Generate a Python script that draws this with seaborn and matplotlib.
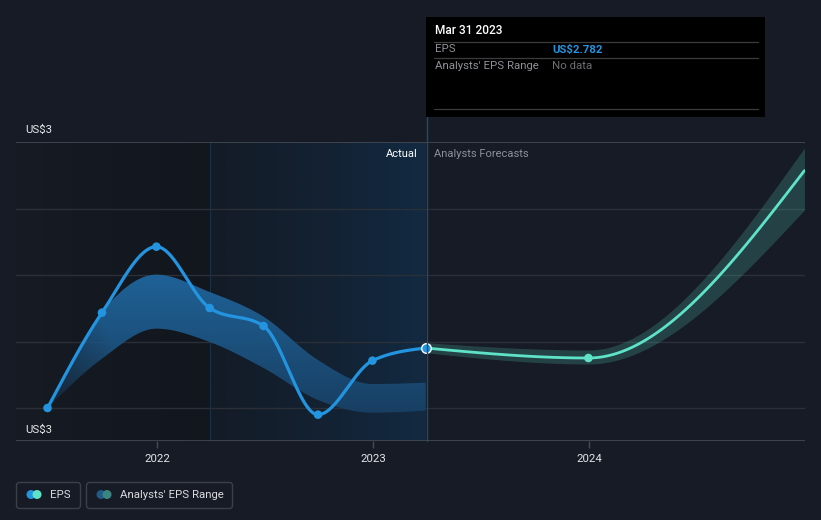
import numpy as np
import pandas as pd
import matplotlib
matplotlib.use("Agg")
import matplotlib.pyplot as plt
import seaborn as sns
from matplotlib.patches import Rectangle, FancyBboxPatch
from matplotlib.colors import LinearSegmentedColormap, to_rgb

# ---------------- data ----------------
eps_dates = ['2021-06-30', '2021-09-30', '2021-12-31', '2022-03-31',
             '2022-06-30', '2022-09-30', '2022-12-31', '2023-03-31']
eps_values = [2.692, 2.835, 2.934, 2.842, 2.815, 2.682, 2.763, 2.782]
range_low = [2.692, 2.766, 2.811, 2.791, 2.752, 2.704, 2.685, 2.688]
range_high = [2.692, 2.836, 2.892, 2.866, 2.829, 2.764, 2.728, 2.730]

fc_dates = ['2023-03-31', '2023-12-31', '2024-12-31']
fc_values = [2.782, 2.767, 3.048]
fc_low = [2.775, 2.758, 2.989]
fc_high = [2.790, 2.779, 3.082]

year_ticks = [2022, 2023, 2024]
y_label_top = "US$3"
y_label_bottom = "US$3"
tooltip_date = "Mar 31 2023"
tooltip_eps = "US$2.782"

# ---------------- helpers ----------------
def dec_year(s):
    d = pd.to_datetime(pd.Series(s))
    days = np.where(d.dt.is_leap_year, 366, 365)
    return (d.dt.year + (d.dt.dayofyear - 1) / days).to_numpy(dtype=float)


def monotone(x, y, n=60):
    x = np.asarray(x, float); y = np.asarray(y, float)
    h = np.diff(x); s = np.diff(y) / h
    m = np.zeros_like(y)
    for i in range(1, len(x) - 1):
        s0, s1 = s[i - 1], s[i]
        if s0 * s1 <= 0:
            m[i] = 0.0
        else:
            p = (s0 * h[i] + s1 * h[i - 1]) / (h[i - 1] + h[i])
            m[i] = (np.sign(s0) + np.sign(s1)) * min(abs(s0), abs(s1), 0.5 * abs(p))
    m[0] = (3 * s[0] - m[1]) / 2
    m[-1] = (3 * s[-1] - m[-2]) / 2
    xs, ys = [], []
    for i in range(len(x) - 1):
        t = np.linspace(0, 1, n, endpoint=(i == len(x) - 2))
        h00 = 2 * t**3 - 3 * t**2 + 1
        h10 = t**3 - 2 * t**2 + t
        h01 = -2 * t**3 + 3 * t**2
        h11 = t**3 - t**2
        xs.append(x[i] + t * h[i])
        ys.append(h00 * y[i] + h10 * h[i] * m[i] + h01 * y[i + 1] + h11 * h[i] * m[i + 1])
    return np.concatenate(xs), np.concatenate(ys)


# ---------------- style ----------------
BG = '#161b25'
BLUE = '#2394df'
TEAL = '#5fe3c8'
GRID = '#2a2f38'
EDGE = '#454a53'

sns.set_theme(style="dark")
plt.rcParams['font.family'] = ['Roboto', 'DejaVu Sans']

W, H = 821, 520
fig = plt.figure(figsize=(W / 100, H / 100), dpi=100, facecolor=BG)

L, R, T, B = 16, 805, 142, 441
ax = fig.add_axes([L / W, 1 - B / H, (R - L) / W, (B - T) / H])
ax.set_facecolor(BG)

px_per_year = 216.0
x0 = 2022 - (157 - L) / px_per_year
x1 = 2022 + (R - 157) / px_per_year
val_at_348 = 2.782
per_px = 0.0015
y_bottom = val_at_348 - (B - 348) * per_px
y_top = val_at_348 + (348 - T) * per_px
ax.set_xlim(x0, x1)
ax.set_ylim(y_bottom, y_top)

ex = dec_year(eps_dates)
fx = dec_year(fc_dates)

# backgrounds: past darker region and "actual" highlight
split = ex[3]
now = ex[-1]
grad_dark = LinearSegmentedColormap.from_list('d', ['#161b24', '#12161d'])
ax.imshow(np.linspace(0, 1, 256).reshape(1, -1), cmap=grad_dark, aspect='auto',
          extent=[x0, split, y_bottom, y_top], zorder=0)
grad_act = LinearSegmentedColormap.from_list('a', [(0, '#131b26'), (0.55, '#132233'),
                                                  (1, '#122a42')])
ax.imshow(np.linspace(0, 1, 256).reshape(1, -1), cmap=grad_act, aspect='auto',
          extent=[split, now, y_bottom, y_top], zorder=0)
ax.axvline(split, color='#16304a', lw=0.8, zorder=1)

# gridlines
for frac in [(B - 209) / (B - T), (B - 275) / (B - T), (B - 342) / (B - T), (B - 408) / (B - T)]:
    ax.axhline(y_bottom + frac * (y_top - y_bottom), color=GRID, lw=1, zorder=1)
ax.axhline(y_top, color=EDGE, lw=1.2, zorder=1)
ax.axhline(y_bottom, color=EDGE, lw=1.2, zorder=1)

# historical analyst range band with gradient (vertical colour, fade-in on the left)
bx, bl = monotone(ex, range_low)
_, bh = monotone(ex, range_high)
poly = ax.fill_between(bx, bl, bh, color='none', lw=0, zorder=2)
ny, nx = 200, 300
vy = np.linspace(0, 1, ny)[:, None]
c_lo = np.array(to_rgb('#194064'))
c_hi = np.array(to_rgb('#2068a0'))
rgb = c_lo[None, None, :] * (1 - vy[..., None]) + c_hi[None, None, :] * vy[..., None]
rgb = np.broadcast_to(rgb, (ny, nx, 3))
xs_img = np.linspace(ex[0], now, nx)
fade = np.clip((xs_img - ex[0]) / (ex[2] - ex[0]), 0, 1)
alpha = np.clip(0.25 + 0.75 * fade[None, :] + 0.6 * vy, 0, 1) * 0.95
rgba = np.dstack([rgb, np.broadcast_to(alpha, (ny, nx))])
img = ax.imshow(rgba, aspect='auto', origin='lower',
                extent=[ex[0], now, 2.68, 2.90], zorder=2)
img.set_clip_path(poly.get_paths()[0], transform=ax.transData)

# forecast band
fbx, fbl = monotone(fx, fc_low)
_, fbh = monotone(fx, fc_high)
ax.fill_between(fbx, fbl, fbh, color=TEAL, alpha=0.2, lw=0, zorder=2)

# lines via seaborn
lx, ly = monotone(ex, eps_values)
sns.lineplot(x=lx, y=ly, ax=ax, color=BLUE, lw=2.3, sort=False, zorder=4)
flx, fly = monotone(fx, fc_values)
sns.lineplot(x=flx, y=fly, ax=ax, color=TEAL, lw=2.0, sort=False, zorder=4)

# markers
sns.scatterplot(x=ex[:-1], y=eps_values[:-1], ax=ax, color=BLUE, s=38, edgecolor='none', zorder=5)
sns.scatterplot(x=fx[1:2], y=fc_values[1:2], ax=ax, color=TEAL, s=38, edgecolor='none', zorder=5)
ax.scatter([ex[-1]], [eps_values[-1]], s=48, color=BLUE, edgecolor='white', linewidth=1.0, zorder=6)

# ticks
ax.set_xticks(year_ticks)
ax.set_xticklabels([str(y) for y in year_ticks], color='#e2e4e8', fontsize=8.2)
ax.set_yticks([])
ax.tick_params(axis='x', length=5, width=1, color=EDGE, pad=4, bottom=True)
ax.grid(False)
for sp in ax.spines.values():
    sp.set_visible(False)
ax.set_xlabel(''); ax.set_ylabel('')

# ---------------- overlay in pixel coordinates ----------------
ov = fig.add_axes([0, 0, 1, 1], zorder=10)
ov.set_xlim(0, W); ov.set_ylim(H, 0)
ov.axis('off')
ov.patch.set_alpha(0)

# vertical "now" line
ov.plot([427, 427], [117, B], color='#1d4b72', lw=1, zorder=1)

ov.text(25, 130, y_label_top, color='#e6e8ea', fontsize=8.2, va='center', ha='left')
ov.text(25, 430, y_label_bottom, color='#e6e8ea', fontsize=8.2, va='center', ha='left')
ov.text(418, 154, "Actual", color='#ffffff', fontsize=8, va='center', ha='right')
ov.text(434, 154, "Analysts Forecasts", color='#8c9099', fontsize=8, va='center', ha='left')

# tooltip
ov.add_patch(Rectangle((426, 17), 339, 100, facecolor='#000000', edgecolor='none', zorder=2))
for yy in [41.5, 58.3, 109.3]:
    ov.plot([434, 758], [yy, yy], color='#3c3c3c', lw=0.9, zorder=3)
ov.text(435, 31, tooltip_date, color='#ffffff', fontsize=8.6, va='center', ha='left',
        fontweight='medium', zorder=4)
ov.text(435, 49.5, "EPS", color='#8e9196', fontsize=8.2, va='center', ha='left', zorder=4)
ov.text(552, 49.5, tooltip_eps, color=BLUE, fontsize=8.2, va='center', ha='left',
        fontweight='bold', zorder=4)
ov.text(435, 66, "Analysts' EPS Range", color='#8e9196', fontsize=8.2, va='center', ha='left', zorder=4)
ov.text(552, 66, "No data", color='#6b6e73', fontsize=8.2, va='center', ha='left', zorder=4)

# legend
for (xa, xb) in [(16, 81), (86, 233)]:
    ov.add_patch(FancyBboxPatch((xa + 0.5, 482.5), xb - xa - 1, 26,
                                boxstyle="round,pad=0,rounding_size=3",
                                facecolor='none', edgecolor='#3a3f48', lw=1))
ov.scatter([31], [494.5], s=42, color=BLUE, edgecolor='none', zorder=3)
ov.scatter([37], [494.5], s=42, color=TEAL, edgecolor='none', zorder=4)
ov.text(50, 494.5, "EPS", color='#d8dade', fontsize=8.2, va='center', ha='left')
ov.scatter([101], [494.5], s=42, color='#205a86', edgecolor='none', zorder=3)
ov.scatter([107], [494.5], s=42, color='#3a8580', edgecolor='none', zorder=4)
ov.text(120, 494.5, "Analysts' EPS Range", color='#d8dade', fontsize=8.2, va='center', ha='left')

fig.savefig("out.png", dpi=100, facecolor=BG)
